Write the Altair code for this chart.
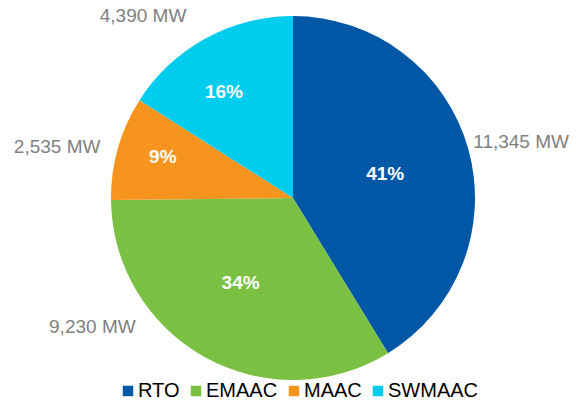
import altair as alt
import pandas as pd

categories = ["RTO", "EMAAC", "MAAC", "SWMAAC"]
mw_values = [11345, 9230, 2535, 4390]
pct_labels = ["41%", "34%", "9%", "16%"]
mw_labels = ["11,345 MW", "9,230 MW", "2,535 MW", "4,390 MW"]
colors = ["#0057A6", "#7AC143", "#F7941D", "#00CCEE"]

df = pd.DataFrame({
    "cat": categories,
    "mw": mw_values,
    "pct": pct_labels,
    "mwl": mw_labels,
    "idx": list(range(len(categories))),
})

# label nudges (styling only)
pct_nudge = {"RTO": (-4, 3), "EMAAC": (-4, -3), "MAAC": (-34, -14), "SWMAAC": (-21, -18)}
out_nudge = {"RTO": (0, 8), "EMAAC": (-86, -78), "MAAC": (-8, 14), "SWMAAC": (-36, 26)}

FONT = "Liberation Sans"

base = alt.Chart(df).encode(
    theta=alt.Theta("mw:Q", stack=True),
    order=alt.Order("idx:Q", sort="ascending"),
)

pie = base.mark_arc(outerRadius=182).encode(
    color=alt.Color(
        "cat:N",
        scale=alt.Scale(domain=categories, range=colors),
        sort=categories,
        legend=alt.Legend(
            title=None,
            orient="none",
            legendX=110,
            legendY=373,
            direction="horizontal",
            columns=4,
            symbolType="square",
            symbolSize=110,
            symbolStrokeWidth=0,
            labelFont=FONT,
            labelFontSize=20,
            labelColor="#000000",
            labelOffset=0,
            columnPadding=6,
            padding=0,
        ),
    )
)

layers = [pie]
for c in categories:
    dx, dy = pct_nudge[c]
    layers.append(
        base.transform_calculate(lab=f"datum.cat == '{c}' ? datum.pct : ''")
        .mark_text(radius=100, font=FONT, fontSize=19, fontWeight="bold",
                   color="white", align="center", baseline="middle", dx=dx, dy=dy)
        .encode(text="lab:N")
    )
    dx, dy = out_nudge[c]
    layers.append(
        base.transform_calculate(lab=f"datum.cat == '{c}' ? datum.mwl : ''")
        .mark_text(radius=237, font=FONT, fontSize=19,
                   color="#808080", align="center", baseline="middle", dx=dx, dy=dy)
        .encode(text="lab:N")
    )

chart = alt.layer(*layers).properties(
    width=570,
    height=380,
    autosize=alt.AutoSizeParams(type="none"),
    padding={"left": 0, "top": 0, "right": 0, "bottom": 13},
).configure_view(stroke=None)

chart.save("out.html", embed_options={"renderer": "svg", "actions": False})
